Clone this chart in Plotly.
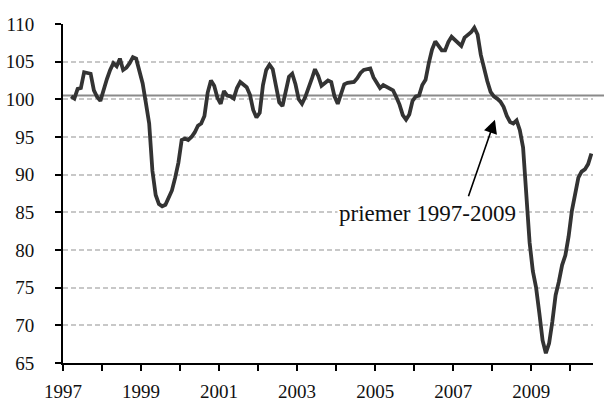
import plotly.graph_objects as go
import pandas as pd

# Monthly index values, March 1997 - July 2010
values = [
    100.4, 100.1, 101.4, 101.5, 103.6, 103.5, 103.4, 101.2, 100.3, 99.8,
    101.5, 102.7, 103.9, 104.8, 104.4, 105.4, 103.9, 104.2, 104.8, 105.6, 105.4, 103.6,
    102.1, 99.5, 96.8, 90.5, 87.3, 86.1, 85.8, 86.0, 87.1, 87.9, 89.6, 91.6,
    94.6, 94.8, 94.6, 95.0, 95.6, 96.5, 96.8, 97.8, 100.9, 102.5, 101.8, 100.2,
    99.4, 101.1, 100.5, 100.4, 100.1, 101.5, 102.3, 102.0, 101.6, 100.6, 98.6, 97.6,
    98.2, 101.9, 103.9, 104.6, 104.0, 101.8, 99.6, 99.1, 101.2, 103.0, 103.4, 102.0,
    100.0, 99.4, 100.3, 101.4, 102.7, 104.0, 103.1, 101.8, 102.2, 102.5, 102.3, 100.4,
    99.4, 100.8, 102.0, 102.2, 102.3, 102.3, 102.8, 103.5, 103.9, 104.0, 104.1, 102.9,
    102.3, 101.5, 101.9, 101.7, 101.5, 101.2, 100.3, 99.3, 97.9, 97.3, 98.0, 99.8,
    100.4, 100.5, 101.9, 102.6, 104.8, 106.6, 107.7, 107.0, 106.5, 106.5, 107.6, 108.3,
    107.9, 107.4, 107.1, 108.2, 108.6, 108.9, 109.5, 108.6, 105.9, 104.0, 102.4, 101.0,
    100.4, 100.1, 99.7, 99.0, 97.8, 97.0, 96.8, 97.2, 95.9, 93.6, 86.5, 81.0,
    77.2, 75.0, 71.6, 68.0, 66.3, 67.6, 70.5, 74.0, 75.8, 78.0, 79.3, 81.8,
    85.2, 87.2, 89.6, 90.4, 90.7, 91.4, 92.8,
]
start_month = "1997-03-01"
average_value = 100.5
annotation_text = "priemer 1997-2009"
year_labels = [1997, 1999, 2001, 2003, 2005, 2007, 2009]
y_ticks = [65, 70, 75, 80, 85, 90, 95, 100, 105, 110]

dates = pd.date_range(start_month, periods=len(values), freq="MS")
x = [d.year + (d.month - 1 + 0.5) / 12 for d in dates]
x_end = 1997 + 163 / 12

FONT = "Liberation Serif"

fig = go.Figure()
fig.add_trace(go.Scatter(
    x=x, y=values, mode="lines",
    line=dict(color="#333333", width=3.8),
    hoverinfo="skip", showlegend=False,
))

# average line, extends a bit beyond the plot area on the right
fig.add_shape(type="line", xref="paper", yref="y",
              x0=0, x1=1.021, y0=average_value, y1=average_value,
              line=dict(color="#8a8a8a", width=2), layer="between")

# arrow
fig.add_annotation(x=2008.07, y=97.3, xref="x", yref="y", text="",
                   showarrow=True, arrowhead=2, arrowsize=1.7, arrowwidth=1.6,
                   arrowcolor="black", ax=-27, ay=78)
# label
fig.add_annotation(x=2006.33, y=84.8, xref="x", yref="y", text=annotation_text,
                   showarrow=False, bgcolor="white",
                   font=dict(family=FONT, size=23, color="#111111"))

fig.update_layout(
    width=604, height=405,
    margin=dict(l=63, r=11, t=24, b=42),
    paper_bgcolor="white", plot_bgcolor="white",
    font=dict(family=FONT, size=19, color="#111111"),
    showlegend=False,
)
fig.update_xaxes(
    range=[1997, x_end], showgrid=False, zeroline=False, automargin=False,
    showline=True, linecolor="black", linewidth=2,
    tickmode="array", tickvals=year_labels, ticktext=[str(v) for v in year_labels],
    ticks="outside", ticklen=6, tickwidth=2, tickcolor="black",
    ticklabelstandoff=4,
    minor=dict(ticks="outside", ticklen=6, tickwidth=2, tickcolor="black",
               tick0=1997, dtick=1, showgrid=False),
)
fig.update_yaxes(
    range=[65, 110], tickmode="array", tickvals=y_ticks, automargin=False,
    showgrid=True, gridcolor="#c8c8c8", gridwidth=1.5, griddash="5px,3px",
    zeroline=False, showline=True, linecolor="black", linewidth=2,
    ticks="outside", ticklen=6, tickwidth=2, tickcolor="black",
    ticklabelstandoff=17,
)

fig.write_html("out.html",
               config={"displayModeBar": False},
               post_script="document.body.style.margin='0';document.body.style.overflow='hidden';")
